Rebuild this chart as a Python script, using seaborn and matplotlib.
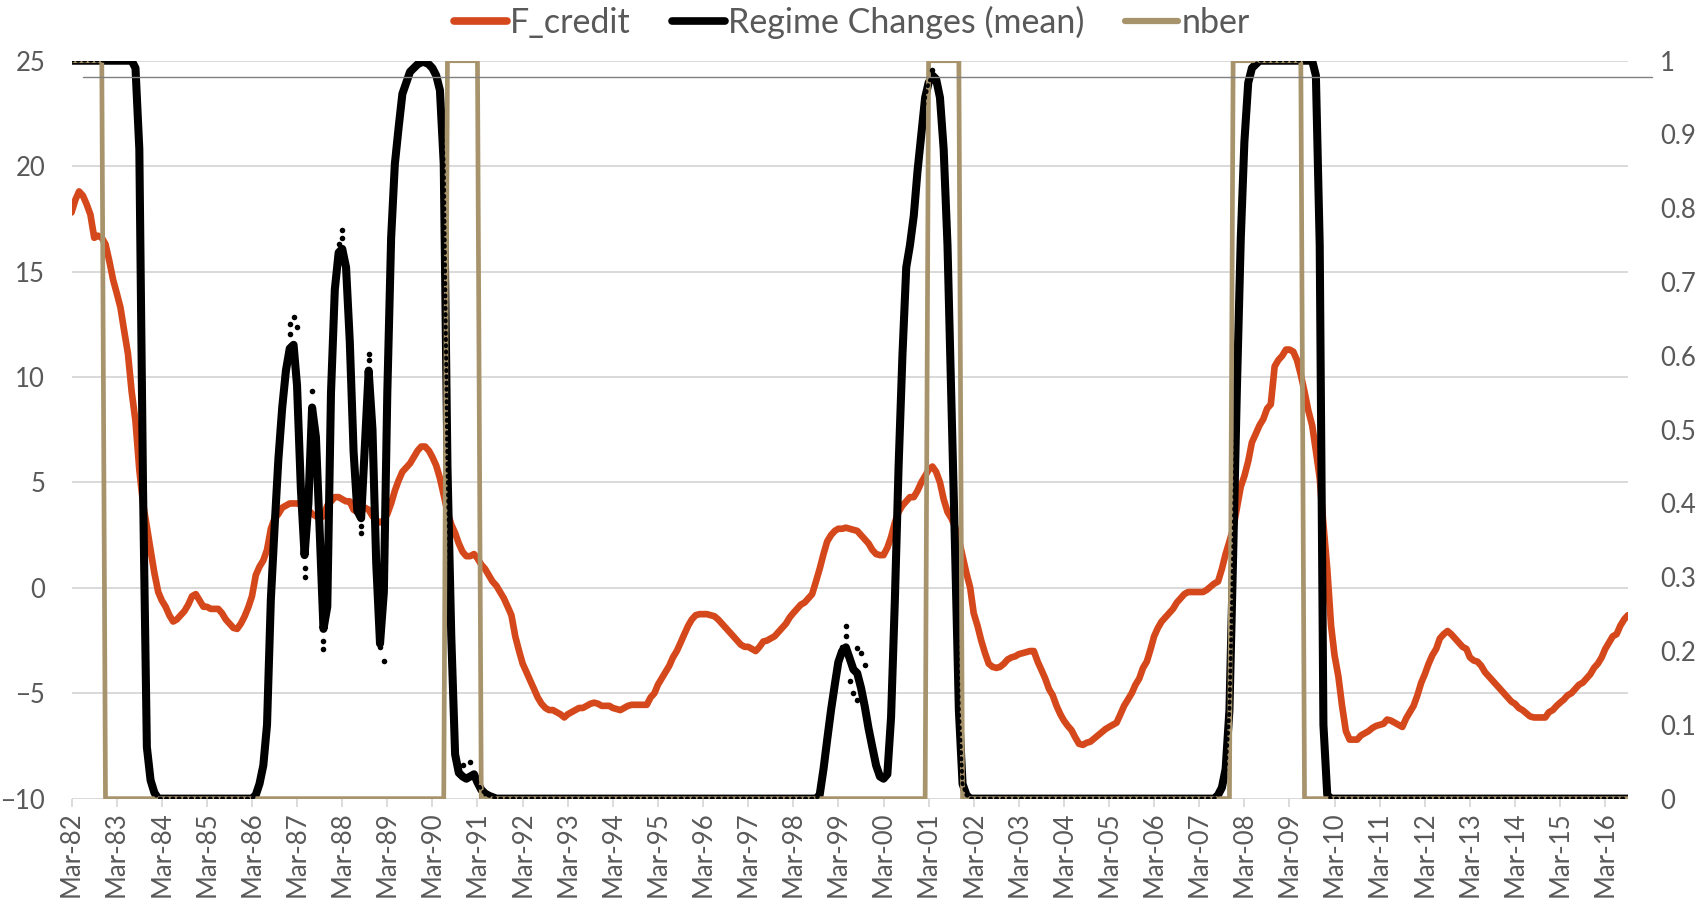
import numpy as np
import pandas as pd
import matplotlib.pyplot as plt
from matplotlib.lines import Line2D
from matplotlib.ticker import FuncFormatter
import seaborn as sns

# ── data: monthly, Mar-82 .. Sep-16 (one row = Mar..Feb)
start_month = "1982-03-01"

f_credit = [
    17.8, 18.4, 18.8, 18.6, 18.2, 17.7, 16.6, 16.7, 16.6, 16.3, 15.5, 14.6,
    14.0, 13.3, 12.2, 11.1, 9.3, 7.9, 5.6, 4.0, 2.9, 1.8, 0.7, -0.2,
    -0.6, -0.9, -1.3, -1.6, -1.5, -1.3, -1.1, -0.8, -0.4, -0.3, -0.6, -0.9,
    -0.9, -1.0, -1.0, -1.0, -1.2, -1.5, -1.7, -1.9, -1.95, -1.7, -1.35, -0.9,
    -0.4, 0.6, 1.0, 1.3, 1.8, 2.8, 3.3, 3.5, 3.8, 3.9, 4.0, 4.0,
    4.0, 3.95, 3.9, 3.7, 3.5, 3.4, 3.3, 3.4, 3.9, 4.1, 4.3, 4.3,
    4.2, 4.1, 4.1, 3.7, 3.6, 3.8, 3.8, 3.7, 3.4, 3.2, 3.1, 3.2,
    3.5, 4.0, 4.6, 5.1, 5.5, 5.7, 5.9, 6.2, 6.5, 6.7, 6.7, 6.5,
    6.2, 5.8, 5.2, 4.4, 3.6, 3.0, 2.6, 2.1, 1.7, 1.5, 1.5, 1.6,
    1.4, 1.1, 0.9, 0.6, 0.3, 0.1, -0.2, -0.5, -0.9, -1.3, -2.3, -3.0,
    -3.6, -4.0, -4.4, -4.8, -5.2, -5.5, -5.7, -5.8, -5.8, -5.9, -6.0, -6.15,
    -6.0, -5.9, -5.8, -5.7, -5.7, -5.6, -5.5, -5.45, -5.5, -5.6, -5.6, -5.6,
    -5.7, -5.75, -5.8, -5.7, -5.6, -5.55, -5.55, -5.55, -5.55, -5.55, -5.2, -5.0,
    -4.6, -4.3, -4.0, -3.7, -3.3, -3.0, -2.6, -2.2, -1.8, -1.5, -1.3, -1.25,
    -1.25, -1.25, -1.3, -1.35, -1.5, -1.7, -1.9, -2.1, -2.3, -2.5, -2.7, -2.8,
    -2.8, -2.9, -3.0, -2.8, -2.55, -2.5, -2.4, -2.3, -2.1, -1.9, -1.7, -1.4,
    -1.2, -1.0, -0.8, -0.7, -0.5, -0.3, 0.3, 0.9, 1.6, 2.2, 2.5, 2.7,
    2.8, 2.8, 2.85, 2.8, 2.75, 2.7, 2.5, 2.3, 2.1, 1.8, 1.6, 1.55,
    1.55, 1.9, 2.4, 3.1, 3.6, 3.9, 4.1, 4.3, 4.3, 4.6, 5.0, 5.3,
    5.6, 5.75, 5.5, 5.0, 4.2, 3.6, 3.3, 2.9, 2.3, 1.5, 0.7, 0.0,
    -1.2, -1.8, -2.5, -3.1, -3.6, -3.75, -3.8, -3.75, -3.6, -3.4, -3.3, -3.25,
    -3.15, -3.1, -3.05, -3.0, -3.0, -3.5, -3.9, -4.3, -4.8, -5.1, -5.6, -6.0,
    -6.3, -6.55, -6.75, -7.1, -7.4, -7.45, -7.35, -7.3, -7.15, -7.0, -6.85, -6.7,
    -6.6, -6.5, -6.4, -6.0, -5.6, -5.3, -5.0, -4.6, -4.3, -3.8, -3.5, -2.9,
    -2.3, -1.9, -1.6, -1.4, -1.2, -1.0, -0.7, -0.5, -0.3, -0.2, -0.2, -0.2,
    -0.2, -0.2, -0.1, 0.05, 0.2, 0.3, 0.9, 1.6, 2.2, 2.8, 3.8, 4.8,
    5.3, 6.0, 6.9, 7.3, 7.7, 8.0, 8.5, 8.7, 10.5, 10.8, 11.0, 11.3,
    11.3, 11.2, 10.8, 10.1, 9.3, 8.4, 7.7, 6.5, 5.2, 3.0, 0.9, -1.8,
    -3.2, -4.2, -5.6, -6.8, -7.2, -7.2, -7.2, -7.0, -6.9, -6.8, -6.65, -6.55,
    -6.5, -6.45, -6.25, -6.3, -6.4, -6.5, -6.6, -6.2, -5.9, -5.6, -5.1, -4.5,
    -4.1, -3.6, -3.2, -2.9, -2.4, -2.2, -2.05, -2.2, -2.4, -2.6, -2.8, -2.9,
    -3.3, -3.45, -3.5, -3.7, -4.0, -4.2, -4.4, -4.6, -4.8, -5.0, -5.2, -5.4,
    -5.5, -5.7, -5.8, -5.95, -6.1, -6.15, -6.15, -6.15, -6.15, -5.9, -5.8, -5.6,
    -5.45, -5.3, -5.1, -5.0, -4.8, -4.6, -4.5, -4.3, -4.1, -3.8, -3.6, -3.3,
    -2.9, -2.6, -2.3, -2.2, -1.8, -1.5, -1.3,
]

regime_mean = [
    1, 1, 1, 1, 1, 1, 1, 1, 1, 1, 1, 1,
    1, 1, 1, 1, 1, 0.99, 0.88, 0.42, 0.07, 0.025, 0.008, 0,
    0, 0, 0, 0, 0, 0, 0, 0, 0, 0, 0, 0,
    0, 0, 0, 0, 0, 0, 0, 0, 0, 0, 0, 0,
    0, 0.005, 0.02, 0.045, 0.10, 0.27, 0.37, 0.46, 0.53, 0.58, 0.61, 0.615,
    0.56, 0.42, 0.33, 0.40, 0.53, 0.49, 0.36, 0.23, 0.26, 0.55, 0.69, 0.74,
    0.745, 0.72, 0.62, 0.47, 0.39, 0.38, 0.48, 0.58, 0.50, 0.32, 0.21, 0.28,
    0.55, 0.76, 0.86, 0.91, 0.955, 0.97, 0.985, 0.99, 0.995, 0.998, 0.998, 0.995,
    0.99, 0.98, 0.96, 0.86, 0.45, 0.22, 0.06, 0.035, 0.03, 0.027, 0.03, 0.033,
    0.022, 0.012, 0.007, 0.004, 0.002, 0, 0, 0, 0, 0, 0, 0,
    0, 0, 0, 0, 0, 0, 0, 0, 0, 0, 0, 0,
    0, 0, 0, 0, 0, 0, 0, 0, 0, 0, 0, 0,
    0, 0, 0, 0, 0, 0, 0, 0, 0, 0, 0, 0,
    0, 0, 0, 0, 0, 0, 0, 0, 0, 0, 0, 0,
    0, 0, 0, 0, 0, 0, 0, 0, 0, 0, 0, 0,
    0, 0, 0, 0, 0, 0, 0, 0, 0, 0, 0, 0,
    0, 0, 0, 0, 0, 0, 0, 0.005, 0.04, 0.08, 0.12, 0.155,
    0.185, 0.2, 0.205, 0.19, 0.175, 0.17, 0.15, 0.125, 0.095, 0.07, 0.045, 0.03,
    0.027, 0.033, 0.11, 0.27, 0.45, 0.60, 0.72, 0.75, 0.79, 0.85, 0.90, 0.95,
    0.97, 0.98, 0.975, 0.95, 0.88, 0.75, 0.54, 0.34, 0.12, 0.02, 0.005, 0,
    0, 0, 0, 0, 0, 0, 0, 0, 0, 0, 0, 0,
    0, 0, 0, 0, 0, 0, 0, 0, 0, 0, 0, 0,
    0, 0, 0, 0, 0, 0, 0, 0, 0, 0, 0, 0,
    0, 0, 0, 0, 0, 0, 0, 0, 0, 0, 0, 0,
    0, 0, 0, 0, 0, 0, 0, 0, 0, 0, 0, 0,
    0, 0, 0, 0, 0, 0.005, 0.015, 0.04, 0.12, 0.33, 0.56, 0.76,
    0.89, 0.97, 0.99, 0.995, 1, 1, 1, 1, 1, 1, 1, 1,
    1, 1, 1, 1, 1, 1, 1, 0.98, 0.75, 0.10, 0.005, 0,
    0, 0, 0, 0, 0, 0, 0, 0, 0, 0, 0, 0,
    0, 0, 0, 0, 0, 0, 0, 0, 0, 0, 0, 0,
    0, 0, 0, 0, 0, 0, 0, 0, 0, 0, 0, 0,
    0, 0, 0, 0, 0, 0, 0, 0, 0, 0, 0, 0,
    0, 0, 0, 0, 0, 0, 0, 0, 0, 0, 0, 0,
    0, 0, 0, 0, 0, 0, 0, 0, 0, 0, 0, 0,
    0, 0, 0, 0, 0, 0, 0,
]

# individual regime draws that stick out of the mean line (month offset, prob)
draw_months = [58, 59, 60, 58, 62, 62, 64, 67, 67, 72, 72, 71, 77, 77, 79, 79,
               82, 83, 104, 106, 205, 206, 206, 208, 209, 207, 209, 210, 211, 229]
draw_values = [0.643, 0.653, 0.639, 0.630, 0.313, 0.300, 0.552, 0.214, 0.203,
               0.771, 0.760, 0.752, 0.369, 0.360, 0.603, 0.594, 0.206, 0.186,
               0.045, 0.050, 0.206, 0.234, 0.221, 0.143, 0.134, 0.159, 0.204,
               0.197, 0.181, 0.988]

nber_recessions = [("1982-03", "1982-11"), ("1990-07", "1991-03"),
                   ("2001-03", "2001-11"), ("2007-12", "2009-06")]

legend_labels = ["F_credit", "Regime Changes (mean)", "nber"]

ORANGE = "#D5481B"
TAN = "#A8946C"
GRID = "#D9D9D9"
TEXT = "#595959"

dates = pd.date_range(start_month, periods=len(f_credit), freq="MS")
nber = np.zeros(len(dates))
for a, b in nber_recessions:
    nber[(dates >= pd.Timestamp(a)) & (dates <= pd.Timestamp(b))] = 1.0
draw_dates = dates[draw_months]

# ── figure
sns.set_theme(style="white")
plt.rcParams["font.family"] = ["Lato", "DejaVu Sans"]

fig = plt.figure(figsize=(17.07, 9.02), dpi=100)
ax = fig.add_axes([0.0419, 0.1146, 0.9118, 0.8181])
ax2 = ax.twinx()

sns.lineplot(x=dates, y=f_credit, ax=ax, color=ORANGE, lw=4.8, legend=False)

sns.lineplot(x=dates, y=regime_mean, ax=ax2, color="black", lw=5.8,
             legend=False, zorder=2)
sns.lineplot(x=dates, y=nber, ax=ax2, color=TAN, lw=3.4, legend=False,
             zorder=3)
sns.lineplot(x=dates, y=regime_mean, ax=ax2, color="black", lw=2.8,
             linestyle=(0, (0.3, 1.3)), dash_capstyle="round",
             legend=False, zorder=4)
sns.scatterplot(x=draw_dates, y=draw_values, ax=ax2, color="black", s=16,
                linewidth=0, legend=False, zorder=5)

# left axis
ax.set_xlim(dates[0], dates[-1])
ax.set_ylim(-10, 25)
ax.set_yticks(range(-10, 30, 5))
ax.grid(axis="y", color=GRID, lw=1.4)
ax.set_axisbelow(True)
ticks = pd.date_range("1982-03-01", "2016-03-01", freq="12MS")
ax.set_xticks(ticks)
ax.set_xticklabels([d.strftime("%b-%y") for d in ticks])
ax.tick_params(axis="x", length=6, width=1.3, color=GRID, pad=3,
               labelrotation=90, labelsize=18.5, labelcolor=TEXT,
               bottom=True)
ax.tick_params(axis="y", length=0, pad=19, labelsize=18.5, labelcolor=TEXT)
ax.set_xlabel("")
ax.set_ylabel("")

# right axis
ax2.set_ylim(0, 1)
ax2.set_yticks(np.arange(0, 1.01, 0.1))
ax2.yaxis.set_major_formatter(FuncFormatter(lambda v, _: f"{v:g}"))
ax2.tick_params(axis="y", length=0, pad=23, labelsize=18.5, labelcolor=TEXT)
ax2.set_ylabel("")
ax2.grid(False)

for a in (ax, ax2):
    for s in a.spines.values():
        s.set_visible(False)

# thin reference line near the top
fig.add_artist(Line2D([83 / 1707, 1652 / 1707], [1 - 77 / 902] * 2,
                      transform=fig.transFigure, color="#808080", lw=1.0))

handles = [Line2D([], [], color=ORANGE, lw=5.5),
           Line2D([], [], color="black", lw=5.5),
           Line2D([], [], color=TAN, lw=4.5)]
fig.legend(handles, legend_labels, loc="center", bbox_to_anchor=(0.499, 0.9756),
           ncol=3, frameon=False, fontsize=24.5, handlelength=1.55,
           handletextpad=0.1, columnspacing=1.2, labelcolor=TEXT)

fig.savefig("out.png", dpi=100)
